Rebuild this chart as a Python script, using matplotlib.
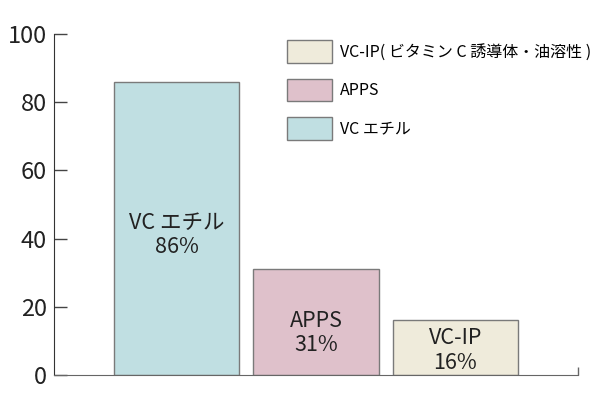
import matplotlib.pyplot as plt
from matplotlib.patches import Patch

plt.rcParams['font.family'] = ['Noto Sans CJK JP', 'DejaVu Sans']

names = ['VC エチル', 'APPS', 'VC-IP']
values = [86, 31, 16]
colors = ['#c0dfe2', '#dfc1cb', '#efebdb']
legend_labels = ['VC エチル', 'APPS', 'VC-IP( ビタミン C 誘導体・油溶性 )']
label_y = [41, 12.3, 7.2]

fig = plt.figure(figsize=(6, 4), dpi=100)
ax = fig.add_axes([0.09, 0.0625, 0.873, 0.8525])

x = range(len(values))
ax.bar(x, values, width=0.9, color=colors, edgecolor='#7a7a7a', linewidth=1)

for i, v in enumerate(values):
    ax.text(i, label_y[i], names[i] + '\n' + str(v) + '%', ha='center', va='center',
            fontsize=15.5, color='#222222', linespacing=1.13)

ax.set_xlim(-0.88, 2.88)
ax.set_ylim(0, 100)
ax.set_yticks([0, 20, 40, 60, 80, 100])
ax.tick_params(axis='y', direction='in', length=9.5, width=1, color='#444444',
               labelsize=17, labelcolor='#222222', pad=5)
ax.set_xticks([2.88])
ax.set_xticklabels([''])
ax.tick_params(axis='x', direction='in', length=6, width=1, color='#666666')

for s in ['top', 'right']:
    ax.spines[s].set_visible(False)
ax.spines['left'].set_color('#333333')
ax.spines['bottom'].set_color('#666666')

handles = [Patch(facecolor=colors[i], edgecolor='#7a7a7a', label=legend_labels[i]) for i in range(3)]
handles = handles[::-1]
ax.legend(handles=handles, loc='upper left', bbox_to_anchor=(0.4447, 0.982), frameon=False,
          fontsize=11.5, handlelength=2.8, handleheight=1.79, labelspacing=1.0,
          handletextpad=0.5, borderpad=0, borderaxespad=0)

fig.savefig('out.png', dpi=100)
